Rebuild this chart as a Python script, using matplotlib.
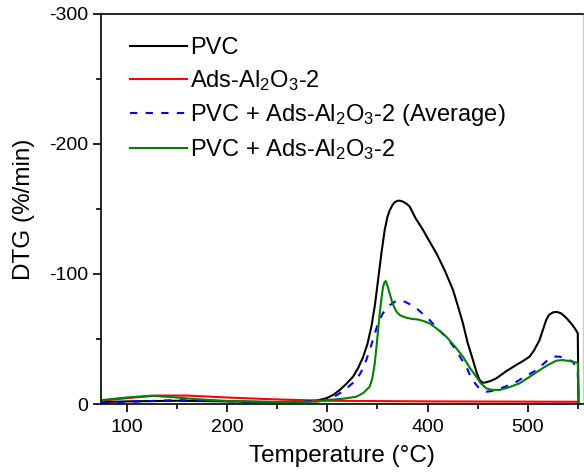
import matplotlib
matplotlib.use("Agg")
import matplotlib.pyplot as plt
from matplotlib.ticker import MultipleLocator

plt.rcParams['font.family'] = ['Liberation Sans', 'DejaVu Sans']
plt.rcParams['mathtext.fontset'] = 'custom'
plt.rcParams['mathtext.rm'] = 'Liberation Sans'
plt.rcParams['mathtext.it'] = 'Liberation Sans:italic'
plt.rcParams['axes.unicode_minus'] = False

# PVC
t_pvc = [75, 100, 150, 200, 250, 280, 290, 299, 306, 312.5, 319, 325.7, 331, 335.7, 340, 344, 347.5,
         350.6, 354, 357.3, 360, 362.3, 365, 367, 369.5, 372.2, 375, 377, 380, 382.2, 388, 395.4,
         402, 408.8, 417, 425.4, 430, 435.3, 440, 445.2, 449, 451.9, 455, 458.6, 463,
         468.5, 478, 488.4, 495, 501.7, 506, 511.6, 515, 518.3, 521, 525, 529, 533.3, 538, 543.2,
         547, 549.8, 550.5]
v_pvc = [-1.5, -2, -2.5, -2, -1.5, -2, -2.8, -4.4, -7, -10.8, -15.5, -21, -28, -36, -46, -59.5, -76,
         -95, -116, -134, -144, -149, -153, -155, -156.2, -156.4, -155.8, -155, -153.5, -151.8, -143, -134,
         -125, -116, -103, -87.7, -76, -62, -47, -34, -24, -18.5, -16.3, -16.7, -17.8,
         -19.7, -25, -30, -33, -36.4, -41, -49, -57, -64.6, -68.5, -70.5, -70.8, -69.7, -66.5, -62,
         -58, -54.4, 0]

# Ads-Al2O3-2
t_ads = [75, 100, 130, 160, 200, 250, 300, 400, 500, 550]
v_ads = [-2.5, -4.5, -6.5, -6.5, -5, -3.5, -2.5, -2, -1.8, -1.7]

# PVC + Ads-Al2O3-2 (Average)
t_avg = [75, 108, 148, 185, 234, 270, 299, 306, 312.5, 320, 329, 334, 339, 343, 347.3, 351, 355.6,
         362.3, 369, 373, 377.3, 383, 389, 395, 402, 408, 415.3, 422, 428.7, 433, 438.7, 443, 448.6,
         453, 458.6, 463, 468.5, 478, 488.4, 498, 508.4, 515, 521.6, 526, 531.6, 538,
         544.8, 548, 549.8, 550.5]
v_avg = [-0.5, -1.8, -3, -2.5, -1.3, -1.5, -3, -5.2, -8.2, -12.5, -18.5, -25, -34, -43, -54, -63, -70,
         -76, -79.5, -79.8, -78.7, -76.5, -73.6, -69.5, -64.6, -59.5, -54, -48, -41.5, -35.5, -28.7, -21, -14.6,
         -11, -9.5, -9.8, -10.8, -13.5, -17, -21.5, -26, -30.5, -35, -36.5, -36.4, -35,
         -32.5, -28.5, -23.6, 0]

# PVC + Ads-Al2O3-2
t_mix = [75, 100, 125, 150, 168, 201, 250, 290, 299, 315, 329, 336, 342.3, 345, 347.3, 349.5, 351.6,
         353.5, 355.6, 357, 358.3, 360, 362.3, 365, 369, 373, 378.9, 384, 390.5, 396, 402, 410,
         418.7, 427, 435.3, 442, 448.6, 453, 458.6, 464, 471.8, 481, 491.7, 501, 511.6, 520, 528.3,
         535, 541.5, 546, 549.8, 550.5]
v_mix = [-3, -5, -6.4, -5, -3.8, -2.3, -1.5, -1.8, -3, -4, -5.6, -8.5, -13.3, -20, -31, -47, -64.6,
         -78, -90, -93.5, -94.6, -91, -85, -77.5, -71, -68, -66.4, -65.5, -65, -63.8, -62, -57.5,
         -51.8, -44.5, -36.4, -28, -21, -16, -12, -10.9, -10.8, -12.8, -15.9, -20.5, -26, -30, -33.3,
         -33.8, -33, -32.3, -31.8, 0]

fig = plt.figure(figsize=(5.84, 4.73), dpi=100)
ax = fig.add_axes([101/584, 1-404/473, 482/584, 390/473])

lw = 1.5
ax.plot(t_pvc, v_pvc, color='black', lw=lw, label='PVC')
ax.plot(t_ads, v_ads, color='red', lw=lw, label='Ads-Al$_2$O$_3$-2')
ax.plot(t_avg, v_avg, color='blue', lw=lw, ls=(0, (3.5, 4)), label='PVC + Ads-Al$_2$O$_3$-2 (Average)')
ax.plot(t_mix, v_mix, color='green', lw=lw, label='PVC + Ads-Al$_2$O$_3$-2')

ax.set_xlim(74.4, 555)
ax.set_ylim(0, -300)
ax.xaxis.set_major_locator(MultipleLocator(100))
ax.xaxis.set_minor_locator(MultipleLocator(50))
ax.yaxis.set_major_locator(MultipleLocator(100))
ax.yaxis.set_minor_locator(MultipleLocator(50))
ax.tick_params(which='major', direction='out', length=6, width=1.2, labelsize=14)
ax.tick_params(axis='x', which='major', pad=5)
ax.tick_params(axis='y', which='major', pad=3)
ax.tick_params(which='minor', direction='out', length=3.5, width=1.2)
for s in ['left', 'bottom', 'top']:
    ax.spines[s].set_linewidth(1.2)
ax.spines['right'].set_color('#cccccc')
ax.spines['right'].set_linewidth(1.0)

ax.set_xlabel('Temperature (°C)', fontsize=17.5, labelpad=6)
ax.set_ylabel('DTG (%/min)', fontsize=17.5, labelpad=10)

ax.legend(loc='upper left', bbox_to_anchor=(0.06, 0.94), frameon=False, fontsize=17,
          handlelength=2.4, handletextpad=0.15, labelspacing=0.38, borderpad=0, borderaxespad=0)

fig.savefig('out.png', dpi=100)
